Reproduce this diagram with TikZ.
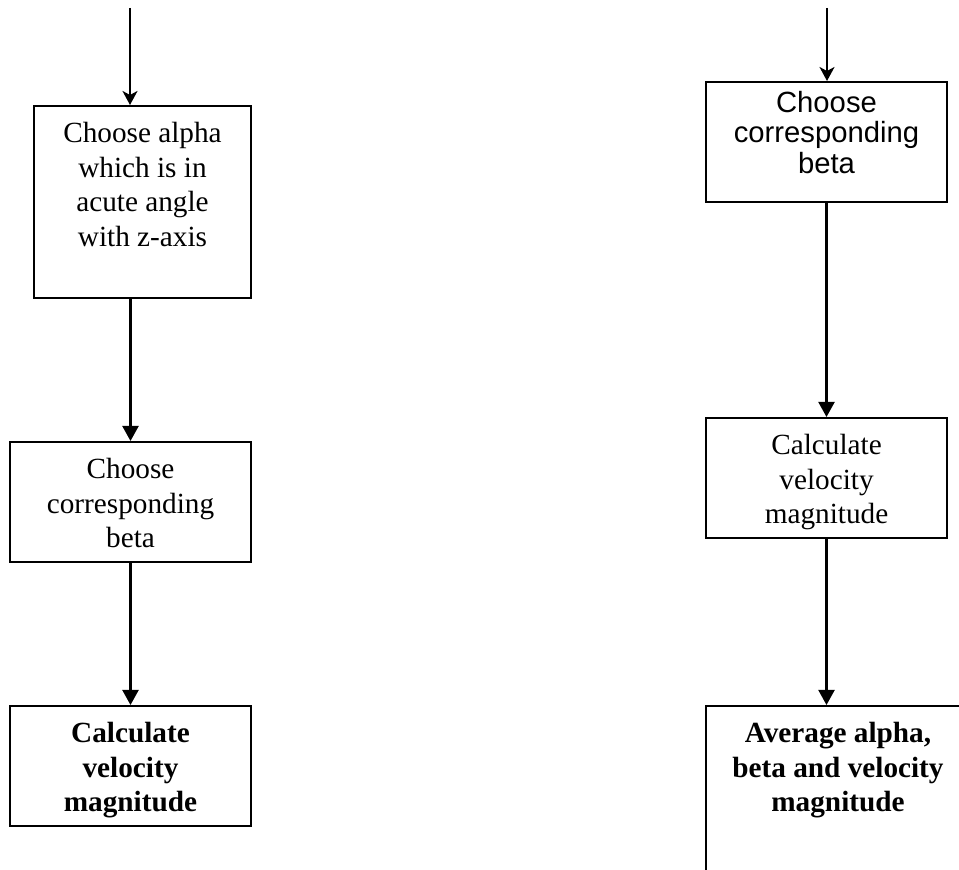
\documentclass[tikz,border=0pt]{standalone}
\usepackage{fontspec}
\setmainfont{Liberation Serif}
\newfontfamily\arialfont{Liberation Sans}
\usetikzlibrary{arrows.meta, positioning}

% text set from the top of a fixed box
\newcommand{\boxtext}[4][5pt]{\parbox[c][#3][t]{#2}{\centering\vspace*{#1}\strut #4}}

\begin{document}
\begin{tikzpicture}[
  x=0.4pt, y=-0.4pt,
  every node/.style={font=\fontsize{11.7}{13.8}\selectfont},
  stepbox/.style={draw, line width=0.9pt, inner sep=0pt, anchor=north},
  sansbox/.style={stepbox, font=\arialfont\fontsize{11.7}{12.2}\selectfont},
  arr/.style={-{Triangle[length=6pt, width=6.4pt]}, line width=0.85pt},
  inarr/.style={-{Stealth[length=5.6pt, width=6pt, inset=1.6pt]}, line width=0.85pt}
]
\clip (0,0) rectangle (959,870);

% Left column
\coordinate (inL) at (130,8);
\node[stepbox] (alpha) at (142.5,105) {\boxtext{86.8pt}{76.8pt}{Choose alpha\\ which is in\\ acute angle\\ with z-axis}};
\node[stepbox] (betaL) at (130.5,441) {\boxtext{96.4pt}{48pt}{Choose\\ corresponding\\ beta}};
\node[stepbox] (velL) at (130.5,705) {\boxtext{96.4pt}{48pt}{\bfseries Calculate\\ velocity\\ magnitude}};
\draw[inarr] (inL) -- (inL |- alpha.north);
\draw[arr] (alpha.south -| betaL.north) -- (betaL.north);
\draw[arr] (betaL.south) -- (velL.north);

% Right column
\coordinate (inR) at (827,8);
\node[sansbox] (betaR) at (826.5,81) {\boxtext[3.6pt]{96.4pt}{48pt}{Choose\\ corresponding\\ beta}};
\node[stepbox] (velR) at (826.5,417) {\boxtext{96.4pt}{48pt}{Calculate\\ velocity\\ magnitude}};
\node[stepbox] (avg) at (838,705) {\boxtext{105.6pt}{80pt}{\bfseries Average alpha,\\ beta and velocity\\ magnitude}};
\draw[inarr] (inR) -- (inR |- betaR.north);
\draw[arr] (betaR.south) -- (velR.north);
\draw[arr] (velR.south) -- (velR.south |- avg.north);

\end{tikzpicture}
\end{document}
